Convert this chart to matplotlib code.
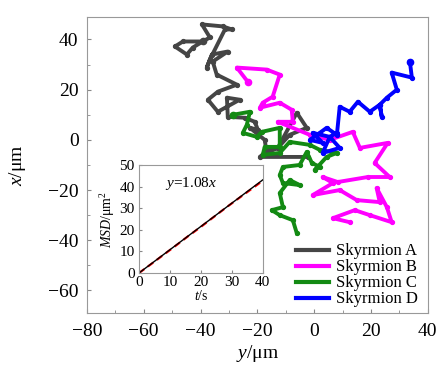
import numpy as np
import matplotlib
matplotlib.use("Agg")
import matplotlib.pyplot as plt

plt.rcParams['font.family'] = ['Liberation Serif', 'DejaVu Serif']
plt.rcParams['mathtext.fontset'] = 'custom'
plt.rcParams['mathtext.rm'] = 'Liberation Serif'
plt.rcParams['mathtext.it'] = 'Liberation Serif:italic'

# trajectories, (y, x) in um
traj_a = [(-39.2, 39.2), (-42.7, 36.8), (-44.8, 34.0), (-49.0, 37.2), (-46.2, 39.2), (-39.2, 39.2),
          (-36.7, 40.8), (-39.5, 46.0), (-32.1, 45.2), (-29.0, 44.0), (-31.4, 44.0), (-36.7, 32.0),
          (-37.8, 28.8), (-36.0, 34.0), (-30.4, 35.2), (-35.7, 31.2), (-34.3, 26.0), (-27.2, 22.0),
          (-33.9, 19.2), (-37.4, 16.0), (-33.9, 11.2), (-26.2, 16.0), (-30.7, 16.8), (-30.4, 9.2),
          (-24.4, 8.8), (-20.9, 7.2), (-19.8, 4.0), (-22.6, 4.8), (-17.4, 0.0), (-16.7, -5.2),
          (-12.8, -3.2), (-6.1, 10.8), (-2.6, 4.8), (-8.6, 2.0), (-12.8, -3.2), (-16.3, -4.0),
          (-19.1, -6.8), (-2.2, -6.8)]
traj_b = [(-23.4, 23.2), (-27.2, 28.8), (-16.7, 28.0), (-12.1, 26.0), (-14.6, 17.2), (-18.1, 14.8),
          (-19.1, 12.8), (-12.1, 14.8), (-7.9, 12.0), (-7.5, 7.2), (-12.8, 7.2), (-1.5, 2.0),
          (5.5, 0.0), (13.6, 3.2), (16.1, -3.2), (25.9, -1.2), (21.3, -9.2), (26.6, -14.8),
          (18.9, -14.8), (8.3, -16.8), (3.0, -14.8), (6.6, -17.2), (-0.5, -22.0), (9.0, -20.0),
          (15.0, -24.0), (23.1, -24.8), (22.0, -19.2), (25.6, -26.8), (27.3, -32.8), (19.6, -30.0),
          (14.3, -28.0), (6.6, -31.2), (12.5, -32.8)]
traj_c = [(-28.6, 10.0), (-22.6, 11.2), (-23.7, 6.0), (-25.1, 2.8), (-20.2, 1.2), (-18.4, 3.2),
          (-12.1, 4.8), (-12.1, -2.8), (-17.4, -2.8), (-18.1, -6.0), (-12.1, -5.2), (-8.6, -0.8),
          (-1.5, -2.0), (2.0, -4.0), (8.0, -5.2), (4.4, -6.8), (0.2, -12.0), (2.0, -10.8),
          (-0.8, -9.2), (-2.6, -4.8), (-5.1, -10.0), (-11.0, -10.8), (-12.1, -14.0), (-11.0, -17.2),
          (-5.1, -18.0), (-8.6, -16.0), (-12.1, -21.2), (-11.0, -26.8), (-14.9, -28.0), (-12.1, -30.0),
          (-7.5, -32.0), (-6.1, -37.2)]
traj_d = [(33.7, 31.2), (34.4, 24.8), (27.3, 26.8), (29.1, 20.0), (25.6, 16.8), (23.1, 14.0),
          (23.8, 9.2), (23.1, 14.0), (19.6, 11.2), (15.4, 15.2), (12.5, 11.2), (9.0, 13.2),
          (8.0, 2.0), (4.4, 4.8), (2.0, 2.8), (-1.5, 0.0), (3.0, -1.2), (-0.5, 2.8), (5.5, 1.2),
          (9.0, -3.2), (3.0, -5.2), (5.5, 1.2), (8.0, 2.8)]
names = ['Skyrmion A', 'Skyrmion B', 'Skyrmion C', 'Skyrmion D']
colors = ['#454545', '#ff00ff', '#138a13', '#0000ff']

# inset MSD data
t = [0, 4, 8, 12, 16, 20, 24, 28, 32, 36, 40]
msd = [0, 4.2, 8.5, 12.8, 17.2, 21.4, 25.8, 30.2, 34.4, 38.6, 42.8]
slope = 1.08

fig = plt.figure(figsize=(4.41, 3.67), dpi=100)
ax = fig.add_axes([0.197, 0.147, 0.773, 0.807])
for tr, nm, c in zip([traj_a, traj_b, traj_c, traj_d], names, colors):
    arr = np.array(tr)
    ax.plot(arr[:, 0], arr[:, 1], '-', color=c, lw=2.8, marker='o', ms=2.8,
            solid_joinstyle='round', label=nm)
    ax.plot(arr[0, 0], arr[0, 1], 'o', color=c, ms=4.5)

ax.set_xlim(-80, 40)
ax.set_ylim(-69, 49)
ax.set_xticks(np.arange(-80, 41, 20))
ax.set_xticks(np.arange(-80, 41, 10), minor=True)
ax.set_yticks(np.arange(-60, 41, 20))
ax.set_yticks(np.arange(-60, 41, 10), minor=True)
ax.tick_params(which='both', direction='in', color='#888888', labelsize=14)
ax.tick_params(axis='x', which='both', pad=7)
ax.tick_params(axis='y', which='both', pad=6)
ax.tick_params(which='major', length=3)
ax.tick_params(which='minor', length=2)
for s in ax.spines.values():
    s.set_color('#999999')
ax.set_xlabel('$y$/μm', fontsize=14, labelpad=2)
ax.set_ylabel('$x$/μm', fontsize=14, labelpad=14)
leg = ax.legend(loc='lower right', bbox_to_anchor=(1.0, -0.015), frameon=False, fontsize=12,
                handlelength=2.0, handletextpad=0.4, labelspacing=0.0, borderaxespad=0.2)
for h in leg.legend_handles:
    h.set_marker('')
    h.set_linewidth(3)

ins = fig.add_axes([0.315, 0.256, 0.281, 0.294])
ins.plot(t, msd, '--', color='red', lw=1.6, dashes=(3, 2))
tt = np.array([0, 40])
ins.plot(tt, slope * tt, '-', color='black', lw=1.0)
ins.set_xlim(0, 40)
ins.set_ylim(0, 50)
ins.set_xticks(np.arange(0, 41, 10))
ins.set_yticks(np.arange(0, 51, 10))
ins.tick_params(direction='in', length=2, color='#888888', labelsize=11)
ins.tick_params(axis='x', pad=2)
ins.tick_params(axis='y', pad=3)
for s in ins.spines.values():
    s.set_color('#999999')
ins.set_xlabel('$t$/s', fontsize=10, labelpad=0)
ins.set_ylabel('$MSD$/μm$^2$', fontsize=10, labelpad=2)
ins.text(8.5, 41.7, '$y$=1.08$x$', fontsize=11, va='center')

fig.savefig('out.png', dpi=100)
